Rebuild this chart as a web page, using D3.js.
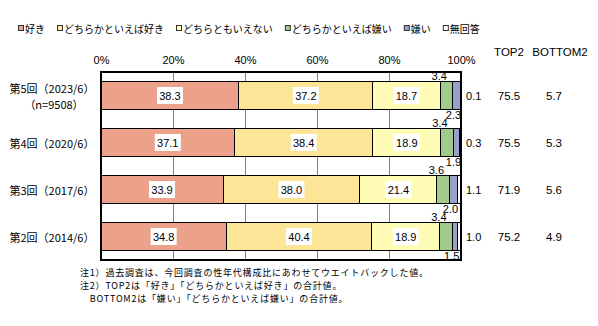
<!DOCTYPE html>
<html><head><meta charset="utf-8">
<script src="https://cdn.jsdelivr.net/npm/d3@7/dist/d3.min.js"></script>
<style>body{margin:0;background:#fff}svg{display:block}</style>
</head><body>
<svg id="c" width="598" height="326"></svg>
<script>
// ---- data ----
const categories = ["第5回（2023/6）", "第4回（2020/6）", "第3回（2017/6）", "第2回（2014/6）"];
const subLabels = ["（n=9508）", "", "", ""];
const seriesNames = ["好き", "どちらかといえば好き", "どちらともいえない", "どちらかといえば嫌い", "嫌い", "無回答"];
const suki = [38.3, 37.1, 33.9, 34.8];
const yayaSuki = [37.2, 38.4, 38.0, 40.4];
const dochiraTomo = [18.7, 18.9, 21.4, 18.9];
const yayaKirai = [3.4, 3.4, 3.6, 3.4];
const kirai = [2.3, 1.9, 2.0, 1.5];
const mukaitou = [0.1, 0.3, 1.1, 1.0];
const top2 = [75.5, 75.5, 71.9, 75.2];
const bottom2 = [5.7, 5.3, 5.6, 4.9];
const tickValues = [0, 20, 40, 60, 80, 100];
const colHeaders = ["TOP2", "BOTTOM2"];
const notes = [
  "注1）過去調査は、今回調査の性年代構成比にあわせてウエイトバックした値。",
  "注2）TOP2は「好き」「どちらかといえば好き」の合計値。",
  "　BOTTOM2は「嫌い」「どちらかといえば嫌い」の合計値。"
];
const colors = ["#ECA18B", "#FCE597", "#FFFCB6", "#A0CB8C", "#9BA0C9", "#FFFFFF"];

// ---- build ----
const seriesArrays = [suki, yayaSuki, dochiraTomo, yayaKirai, kirai, mukaitou];
const rows = categories.map((c, i) => {
  const o = {cat: c};
  seriesNames.forEach((s, k) => o[s] = seriesArrays[k][i]);
  return o;
});
const stacked = d3.stack().keys(seriesNames)(rows);

const svg = d3.select("#c");
const jp = "'Noto Sans CJK JP', 'Noto Sans', sans-serif";
const num = "'Liberation Sans', Arial, sans-serif";

const x = d3.scaleLinear().domain([0, 100]).range([101, 461]);
const y = d3.scaleBand().domain(categories).range([72, 260]).paddingInner(0.415).paddingOuter(0.2075);

// gridlines
svg.append("g").selectAll("line").data(tickValues.filter(t => t > 0 && t < 100)).join("line")
  .attr("x1", d => x(d)).attr("x2", d => x(d)).attr("y1", 72).attr("y2", 260)
  .attr("stroke", "#808080").attr("stroke-width", 1).attr("shape-rendering", "crispEdges");

// bars
const gBars = svg.append("g");
stacked.forEach((s, k) => {
  gBars.append("g").selectAll("rect").data(s).join("rect")
    .attr("x", d => x(d[0])).attr("width", d => x(d[1]) - x(d[0]))
    .attr("y", d => y(d.data.cat)).attr("height", y.bandwidth())
    .attr("fill", colors[k]).attr("stroke", "#000").attr("stroke-width", 1)
    .attr("shape-rendering", "crispEdges");
});

// plot border
svg.append("rect").attr("x", x(0)).attr("y", 72).attr("width", x(100) - x(0)).attr("height", 188)
  .attr("fill", "none").attr("stroke", "#000").attr("stroke-width", 1.2).attr("shape-rendering", "crispEdges");

// axis (top)
const axis = d3.axisTop(x).tickValues(tickValues).tickFormat(d => d + "%").tickSize(0).tickPadding(0);
const ga = svg.append("g").attr("transform", "translate(0,64)").call(axis);
ga.select(".domain").remove();
ga.selectAll("text").attr("font-family", num).attr("font-size", 11).attr("fill", "#000").attr("dy", "0");

// inside labels with white boxes for first 3 series
const gLab = svg.append("g");
[0, 1, 2].forEach(k => {
  stacked[k].forEach(d => {
    const cx = (x(d[0]) + x(d[1])) / 2, cy = y(d.data.cat) + y.bandwidth() / 2;
    gLab.append("rect").attr("x", cx - 13).attr("y", cy - 8.5).attr("width", 26).attr("height", 17).attr("fill", "#fff");
    gLab.append("text").attr("x", cx).attr("y", cy).attr("text-anchor", "middle").attr("dominant-baseline", "central")
      .attr("font-family", num).attr("font-size", 11).text(d3.format(".1f")(d[1] - d[0]));
  });
});
// green labels above bar
stacked[3].forEach((d, i) => {
  const cx = (x(d[0]) + x(d[1])) / 2 - 7;
  gLab.append("text").attr("x", cx).attr("y", y(d.data.cat) - 6).attr("text-anchor", "middle").attr("dominant-baseline", "central")
    .attr("font-family", num).attr("font-size", 11).text(d3.format(".1f")(yayaKirai[i]));
});
// blue labels below bar
stacked[4].forEach((d, i) => {
  const cx = (x(d[0]) + x(d[1])) / 2 - 3;
  gLab.append("text").attr("x", cx).attr("y", y(d.data.cat) + y.bandwidth() + 6).attr("text-anchor", "middle").attr("dominant-baseline", "central")
    .attr("font-family", num).attr("font-size", 11).text(d3.format(".1f")(kirai[i]));
});
// no-answer labels at right
categories.forEach((c, i) => {
  gLab.append("text").attr("x", x(100) + 5).attr("y", y(c) + y.bandwidth() / 2).attr("dominant-baseline", "central")
    .attr("font-family", num).attr("font-size", 11).text(d3.format(".1f")(mukaitou[i]));
});

// TOP2 / BOTTOM2 columns
const colX = [509, 560];
colHeaders.forEach((h, j) => {
  svg.append("text").attr("x", colX[j]).attr("y", 52).attr("text-anchor", "middle").attr("dominant-baseline", "central")
    .attr("font-family", num).attr("font-size", 11.5).text(h);
});
categories.forEach((c, i) => {
  const cy = y(c) + y.bandwidth() / 2;
  svg.append("text").attr("x", colX[0]).attr("y", cy).attr("text-anchor", "middle").attr("dominant-baseline", "central")
    .attr("font-family", num).attr("font-size", 11.5).text(d3.format(".1f")(top2[i]));
  svg.append("text").attr("x", colX[1] - 6).attr("y", cy).attr("text-anchor", "middle").attr("dominant-baseline", "central")
    .attr("font-family", num).attr("font-size", 11.5).text(d3.format(".1f")(bottom2[i]));
});

// category labels
categories.forEach((c, i) => {
  const cy = y(c) + y.bandwidth() / 2;
  if (subLabels[i]) {
    svg.append("text").attr("x", 52).attr("y", cy - 8).attr("text-anchor", "middle").attr("dominant-baseline", "central")
      .attr("font-family", jp).attr("font-size", 11).text(c);
    svg.append("text").attr("x", 54).attr("y", cy + 8).attr("text-anchor", "middle").attr("dominant-baseline", "central")
      .attr("font-family", jp).attr("font-size", 11).text(subLabels[i]);
  } else {
    svg.append("text").attr("x", 52).attr("y", cy).attr("text-anchor", "middle").attr("dominant-baseline", "central")
      .attr("font-family", jp).attr("font-size", 11).text(c);
  }
});

// legend
const gLeg = svg.append("g");
let lx = 18;
seriesNames.forEach((s, k) => {
  gLeg.append("rect").attr("x", lx + 0.5).attr("y", 25.5).attr("width", 5).attr("height", 5)
    .attr("fill", colors[k]).attr("stroke", "#333").attr("stroke-width", 1);
  const t = gLeg.append("text").attr("x", lx + 7).attr("y", 28).attr("dominant-baseline", "central")
    .attr("font-family", jp).attr("font-size", 10).text(s);
  lx += 7 + t.node().getComputedTextLength() + 12;
});

// notes
notes.forEach((n, i) => {
  svg.append("text").attr("x", 80).attr("y", 272 + i * 13).attr("dominant-baseline", "central")
    .attr("font-family", jp).attr("font-size", 9).attr("letter-spacing", 0.8).text(n);
});
</script>
</body></html>
